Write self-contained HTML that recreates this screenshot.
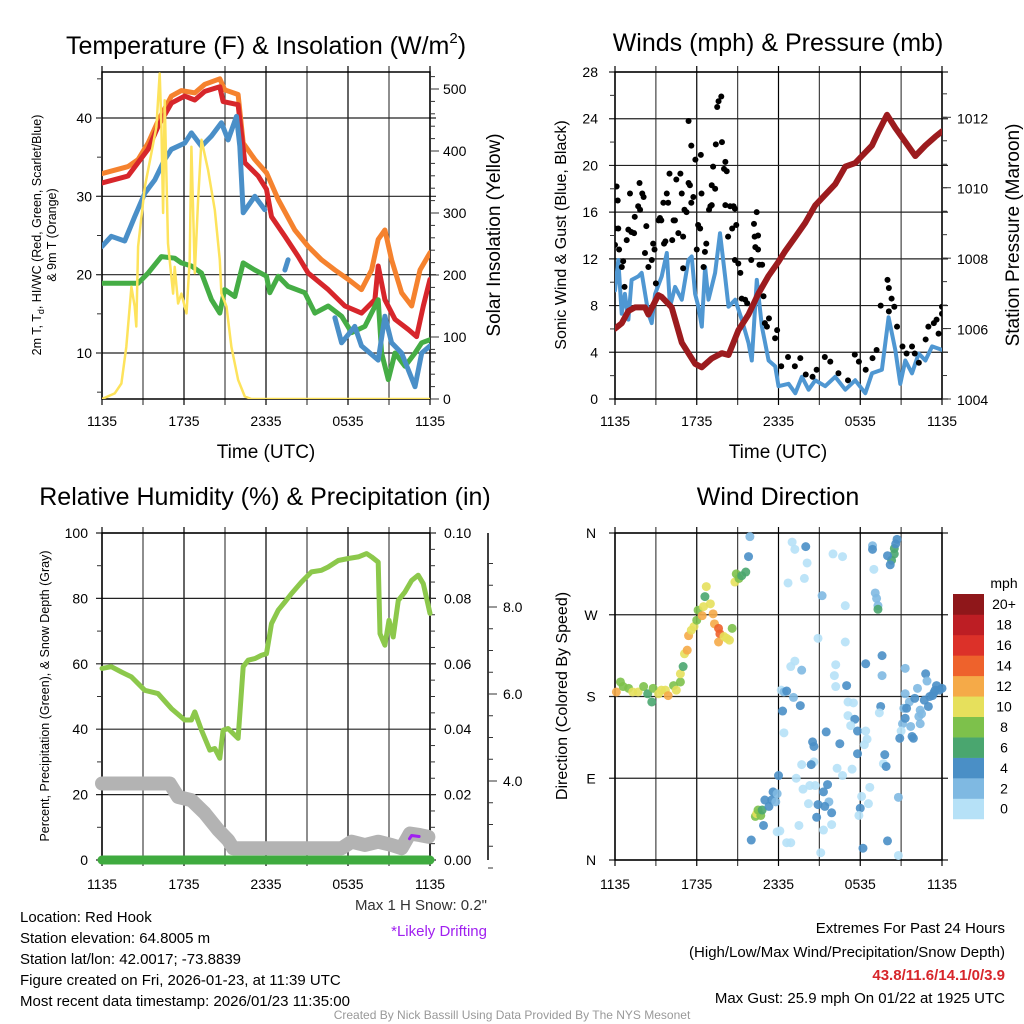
<!DOCTYPE html>
<html><head><meta charset="utf-8"><style>
html,body{margin:0;padding:0;background:#fff;}
svg{display:block;font-family:"Liberation Sans",Arial,sans-serif;}
</style></head><body>
<svg id="chart" width="1024" height="1024" viewBox="0 0 1024 1024" xmlns="http://www.w3.org/2000/svg">
<rect x="0" y="0" width="1024" height="1024" fill="#fff"/>
<defs>
<clipPath id="c1"><rect x="102" y="72" width="328" height="327"/></clipPath>
<clipPath id="c2"><rect x="615" y="72" width="327" height="327"/></clipPath>
<clipPath id="c3"><rect x="95" y="533" width="342" height="335"/></clipPath>
<clipPath id="c4"><rect x="610" y="528" width="337" height="337"/></clipPath>
</defs>
<text x="266" y="54" font-size="25" text-anchor="middle">Temperature (F) &amp; Insolation (W/m<tspan font-size="15" dy="-11">2</tspan><tspan dy="11">)</tspan></text>
<text x="778" y="51" font-size="25" text-anchor="middle">Winds (mph) &amp; Pressure (mb)</text>
<text x="265" y="505" font-size="25" text-anchor="middle">Relative Humidity (%) &amp; Precipitation (in)</text>
<text x="778" y="505" font-size="25" text-anchor="middle">Wind Direction</text>
<text x="266" y="458" font-size="19" text-anchor="middle">Time (UTC)</text>
<text x="778" y="458" font-size="19" text-anchor="middle">Time (UTC)</text>
<g transform="translate(41,235) rotate(-90)" font-size="12.5" text-anchor="middle">
<text x="0" y="0">2m T, T<tspan font-size="9" dy="3">d</tspan><tspan dy="-3">, HI/WC (Red, Green, Scarlet/Blue)</tspan></text>
<text x="0" y="15">&amp; 9m T (Orange)</text>
</g>
<text transform="translate(500,235) rotate(-90)" font-size="19" text-anchor="middle">Solar Insolation (Yellow)</text>
<text transform="translate(566,235) rotate(-90)" font-size="16" text-anchor="middle">Sonic Wind &amp; Gust (Blue, Black)</text>
<text transform="translate(1019,235) rotate(-90)" font-size="19" text-anchor="middle">Station Pressure (Maroon)</text>
<text transform="translate(49,696) rotate(-90)" font-size="12.5" text-anchor="middle">Percent, Precipitation (Green), &amp; Snow Depth (Gray)</text>
<text transform="translate(567,696) rotate(-90)" font-size="16" text-anchor="middle">Direction (Colored By Speed)</text>
<text x="487" y="910" font-size="15" text-anchor="end" fill="#333">Max 1 H Snow: 0.2"</text>
<text x="487" y="936" font-size="15" text-anchor="end" fill="#a020f0">*Likely Drifting</text>
<g font-size="15">
<text x="20" y="922">Location: Red Hook</text>
<text x="20" y="943">Station elevation: 64.8005 m</text>
<text x="20" y="964">Station lat/lon: 42.0017; -73.8839</text>
<text x="20" y="985">Figure created on Fri, 2026-01-23, at 11:39 UTC</text>
<text x="20" y="1006">Most recent data timestamp: 2026/01/23 11:35:00</text>
</g>
<g font-size="15" text-anchor="end">
<text x="1005" y="933">Extremes For Past 24 Hours</text>
<text x="1005" y="957">(High/Low/Max Wind/Precipitation/Snow Depth)</text>
<text x="1005" y="980" fill="#d7262b" font-weight="bold">43.8/11.6/14.1/0/3.9</text>
<text x="1005" y="1003">Max Gust: 25.9 mph On 01/22 at 1925 UTC</text>
</g>
<text x="512" y="1019" font-size="12" text-anchor="middle" fill="#999">Created By Nick Bassill Using Data Provided By The NYS Mesonet</text>
</svg>
<script>
// ---------- DATA ----------
const gridHours=[0,3,6,9,12,15,18,21,24];
const timeTickHours=[0,6,12,18,24];
const timeTickLabels=['1135','1735','2335','0535','1135'];

const t9mHours=[0,1.9,2.64,3.37,4.1,5.08,5.81,6.79,7.52,8.62,8.98,9.96,10.33,11.18,12.04,12.89,14.11,15.09,16.06,17.04,18.02,18.99,19.73,20.21,20.7,21.19,21.92,22.66,23.27,24];
const t9mValues=[32.9,33.8,34.7,36.8,39.6,42.8,43.5,43.2,44.3,45.0,43.6,43.0,36.8,34.7,33.0,29.6,25.7,23.6,21.9,20.6,19.4,18.1,20.6,24.5,25.7,21.9,17.7,16.0,20.6,22.8];
const t2mHours=[0,1.9,3.37,4.1,5.08,6.05,6.79,7.52,8.62,8.86,9.96,10.45,11.43,12.04,12.4,13.38,14.36,15.09,16.55,17.77,18.99,19.97,20.21,20.7,21.44,22.41,23.02,23.51,24];
const t2mValues=[31.7,32.6,36,38.9,41.9,42.8,42.3,43.4,44,42.1,41.7,34.3,32.6,30.9,27.4,24.9,22.3,20.2,18.1,16,15.1,16.8,21.1,16.8,14.3,13,12.1,16,19.4];
const wcHours=[0,0.68,1.66,2.39,3.13,3.86,4.59,5.08,6.05,6.54,7.28,8.01,8.74,9.23,9.84,10.08,10.33,11.18,11.91,12.5,13.38,13.62,15.5,17.04,17.53,18.5,18.99,20.21,20.7,21.19,21.92,22.9,23.39,24];
const wcValues=[23.6,24.9,24.3,27.4,30.4,32.1,34.7,36,36.8,38.1,36.4,37.7,39.4,37.2,40.2,36.4,27.9,30,28.3,null,20.6,21.9,null,14.5,11.3,13.4,10.9,9.1,14.7,11.3,10,5.7,10,10.9];
const tdHours=[0,2.64,3.37,4.35,5.32,5.81,6.54,7.28,8.01,8.62,8.98,9.72,10.33,11.18,12.04,12.28,12.89,13.62,14.84,15.58,16.55,17.53,18.26,19.24,20.21,20.46,20.95,21.44,22.17,22.9,23.39,24];
const tdValues=[18.9,18.9,20.2,22.3,22.1,21.5,21.1,20.2,16.8,15.1,18.1,17.2,21.5,20.6,19.8,17.7,19.8,18.5,17.7,15.1,16,14.7,12.6,13.4,16.8,10,6.6,10,8.3,10,11.3,11.7];
const solarHours=[0,0.93,1.42,1.78,2.15,2.39,2.51,2.64,3.13,3.61,3.98,4.22,4.35,4.47,4.59,4.83,5.2,5.32,5.57,5.81,6.18,6.42,6.54,6.79,7.03,7.28,7.76,8.25,8.62,8.74,9.11,9.47,9.96,10.45,10.94,24];
const solarValues=[0,9,25,84,181,149,117,246,342,396,439,525,439,300,482,251,170,213,154,170,138,224,407,203,321,418,369,305,224,170,149,84,31,4,0,0];

const sonicHours=[0,0.24,0.49,0.73,0.98,1.22,1.71,1.96,2.45,2.69,2.94,3.43,3.8,4.04,4.41,4.9,5.39,5.63,5.88,6.12,6.37,6.61,6.86,7.35,7.71,8.08,8.33,8.82,9.31,9.8,10.04,10.41,10.78,11.27,11.76,12.0,12.74,13.23,13.72,14.21,14.7,15.43,16.16,16.9,17.63,18.37,18.86,19.59,20.08,20.57,20.94,21.31,21.8,22.29,22.78,23.27,24];
const sonicValues=[9.3,11.9,7.3,9.0,6.8,10.2,10.5,10.8,7.3,6.5,9.0,10.5,12.5,7.9,9.6,8.5,11.9,12.2,9.0,7.9,6.2,11.3,8.5,10.8,14.2,10.5,7.9,8.5,6.8,4.8,3.3,10.2,6.2,3.3,2.8,1.1,1.3,0.5,1.9,0.8,1.6,1.1,1.9,0.8,1.6,0.5,2.2,2.5,7.0,4.2,1.3,3.3,2.2,3.9,3.3,4.5,4.2];
const gustHours=[0.12,0.2,0,0.24,0,0.3,0.6,0.5,0.7,0.86,0.98,1.2,1.4,1.1,1.45,1.7,1.84,1.8,2.0,2.1,2.3,2.2,2.45,2.7,2.8,2.9,3.0,3.2,3.3,3.4,3.6,3.7,3.55,3.8,3.9,4.0,4.3,4.4,4.2,4.5,4.65,4.8,4.9,5.0,5.0,5.1,5.25,5.4,5.5,5.6,5.75,5.4,5.6,5.9,6.0,6.1,6.25,6.3,6.35,6.5,6.6,6.7,6.9,7.0,7.1,7.1,7.2,7.35,7.4,7.5,7.6,7.8,7.85,8.0,8.1,8.1,8.2,8.3,8.45,8.6,8.7,8.8,8.8,8.9,9.05,9.2,9.3,9.55,9.7,10.0,10.2,10.25,10.4,10.5,10.5,10.6,10.3,10.8,10.9,11.0,11.15,11.3,11.75,11.9,12.2,12.7,13.2,13.6,14.0,14.5,14.8,15.4,15.8,16.4,17.1,17.6,17.9,18.4,18.9,19.2,19.5,20.0,20.1,20.3,20.5,20.1,20.7,21.1,21.4,21.8,22.0,22.3,22.8,23.0,23.4,23.6,23.75,24.0,24.0];
const gustValues=[18.2,17.0,14.6,14.6,13.2,12.8,11.8,11.3,9.6,13.6,14.5,14.3,14.2,17.6,15.6,16.5,16.2,18.5,17.6,17.3,14.8,12.5,11.3,11.9,13.3,12.8,9.9,15.3,15.5,15.3,13.3,13.5,16.8,17.6,16.8,19.3,15.3,15.3,13.6,18.8,14.2,19.3,17.6,11.2,13.9,16.2,16.0,18.5,18.3,16.8,17.3,23.8,21.7,20.5,12.8,14.9,14.6,20.9,17.6,11.3,12.6,13.3,16.2,16.5,16.6,18.3,19.9,18.0,21.8,25.0,25.5,25.9,22.0,19.7,16.6,20.3,19.5,13.9,16.5,14.6,16.5,16.3,11.9,14.9,11.6,10.8,8.6,8.5,8.2,11.9,15.0,13.9,16.0,14.0,12.8,11.5,13.0,11.5,8.8,6.5,6.2,6.9,5.2,5.9,2.8,3.6,2.8,3.5,2.1,1.9,2.5,3.6,3.2,2.2,1.6,3.8,3.2,2.5,3.5,4.2,8.0,10.2,9.5,8.6,7.9,7.5,6.2,4.5,3.9,4.5,3.9,3.1,5.1,6.2,6.5,6.8,5.6,7.3,7.9];
const pressureHours=[0,0.49,0.98,1.47,2.2,2.45,3.18,3.43,4.16,4.9,5.88,6.37,7.1,7.84,8.33,9.06,9.8,10.53,11.27,12.0,12.49,13.23,13.96,14.7,15.43,16.16,16.9,17.63,18.12,18.86,19.35,19.96,20.57,21.31,22.04,22.78,23.51,24];
const pressureValues=[1006.0,1006.15,1006.5,1006.6,1006.6,1006.4,1006.95,1006.9,1006.6,1005.6,1005.0,1004.9,1005.15,1005.3,1005.25,1005.95,1006.4,1007.0,1007.5,1007.9,1008.2,1008.6,1009.0,1009.5,1009.8,1010.1,1010.6,1010.7,1010.9,1011.2,1011.6,1012.07,1011.7,1011.3,1010.9,1011.2,1011.45,1011.6];

const rhHours=[0,0.68,1.42,2.15,3.13,4.1,5.08,6.05,6.54,6.79,7.28,7.89,8.25,8.62,8.86,9.23,9.59,9.96,10.33,10.69,11.18,11.67,12.04,12.4,12.89,13.38,13.87,14.6,15.33,16.06,16.55,17.29,18.02,18.75,19.36,19.73,20.21,20.34,20.7,21.0,21.31,21.68,22.17,22.66,23.14,23.51,24];
const rhValues=[58.6,59.1,57.5,56,51.9,50.9,46.3,42.8,42.8,45.3,39.7,33.6,34.1,31.1,39.7,40.2,38.7,37.2,59.1,61.1,61.6,62.6,63.1,72.3,76.4,78.9,81.5,85,88.1,88.6,89.6,91.6,92.2,92.7,93.7,92.7,91.1,69.2,65.7,73.3,68.2,79.4,82,85.5,87.1,84.5,75.4];
const snowHours=[0,4.96,5.57,6.54,7.52,8.5,9.23,9.59,17.53,18.26,19.24,20.21,21.19,21.92,22.53,23.27,23.88];
const snowValues=[0.0234,0.0234,0.0193,0.0183,0.0143,0.0092,0.0061,0.0036,0.0036,0.0056,0.0046,0.0056,0.0046,0.0036,0.0081,0.0076,0.0071];
const driftHours=[22.5,22.65,23.2];
const driftValues=[0.0065,0.0075,0.0072];
const precipHours=[0,24];
const precipValues=[0,0];

const dirHours=[0.1,0.4,0.6,1.0,1.3,1.7,2.1,2.4,2.7,2.8,3.2,3.4,3.7,3.9,4.3,4.5,4.8,4.8,5.0,5.1,5.3,5.4,5.6,5.8,6.0,6.1,6.4,6.5,6.6,6.7,7.0,7.2,7.3,7.6,7.7,7.6,8.0,8.2,8.4,8.6,8.8,8.9,9.1,9.3,9.6,9.8,9.9,10.0,10.3,10.4,10.5,10.7,10.8,10.9,11.0,11.3,11.5,11.6,11.8,11.9,12.0,11.9,12.2,12.4,12.6,13.0,13.2,14.0,14.1,12.7,13.9,15.2,16.9,16.0,16.7,14.9,16.9,13.2,12.9,13.7,16.2,16.1,16.2,17.0,18.4,19.6,19.6,21.3,13.1,13.6,12.3,12.4,14.5,14.6,15.5,16.5,17.1,17.5,17.1,17.6,17.3,17.8,18.4,18.5,18.3,17.8,19.5,19.4,19.8,19.7,19.9,13.7,14.6,14.4,16.3,17.4,16.7,13.3,13.8,14.3,14.7,15.6,15.3,15.7,15.4,14.9,15.9,14.8,13.5,14.2,15.9,15.3,12.1,12.6,12.9,15.1,18.2,20.0,20.8,18.1,18.7,18.6,18.0,17.9,20.8,18.9,18.9,19.0,19.1,19.2,19.3,19.3,20.5,20.5,20.3,20.2,20.0,20.6,20.7,21.3,21.6,21.2,21.4,21.1,21.3,21.0,20.9,21.8,21.9,21.7,22.0,22.2,22.4,22.3,22.5,22.4,22.7,22.8,22.9,23.0,23.1,23.3,23.4,23.5,23.6,23.8,24.0,23.9];
const dirDegrees=[185,196,191,189,185,185,191,183,174,189,183,187,187,181,192,187,196,205,213,227,231,247,253,257,264,275,269,279,290,301,282,271,260,255,249,240,246,244,242,255,306,315,310,313,317,334,356,22,48,51,55,49,55,38,66,59,66,75,64,73,93,31,187,185,186,350,342,345,327,305,310,291,280,337,334,244,240,219,213,209,215,203,191,192,216,225,203,211,179,170,164,140,130,125,141,128,174,173,159,155,148,142,142,133,127,117,169,162,116,106,103,105,108,105,101,100,93,90,78,82,82,83,75,64,59,61,52,47,38,62,39,33,32,19,19,8,13,21,5,70,80,62,57,49,69,346,342,320,294,288,280,276,343,337,330,325,335,348,353,183,174,167,167,150,156,142,134,136,134,147,178,189,165,158,161,150,176,205,197,169,180,181,184,187,192,187,189,185];
const dirSpeeds=[13,9,8,9,10,11,9,6,7,8,11,10,10,13,9,11,9,11,7,10,12,13,11,10,9,8,12,11,7,11,10,13,13,15,14,12,10,11,11,9,10,9,8,7,7,5,3,5,9,11,8,9,7,5,5,5,5,4,3,3,5,1,1,2,4,1,1,5,1,1,1,2,1,1,1,1,1,1,1,3,1,1,1,4,4,4,3,3,3,4,4,1,4,4,4,4,1,1,1,4,1,4,1,1,1,4,4,1,4,1,4,1,1,4,1,1,1,1,1,1,1,4,4,3,4,4,4,4,1,1,1,1,1,1,1,1,4,4,1,1,1,1,4,1,3,3,4,1,3,3,3,6,6,6,6,4,4,4,4,3,3,3,4,3,4,1,4,4,5,3,4,3,3,3,3,3,4,5,3,4,4,4,4,5,4,5,4];
const speedBinLabels=['0','2','4','6','8','10','12','14','16','18','20+'];
const speedBinColors=['#b6e1f7','#7fb9e2','#4a8fc6','#4aa66f','#7dc14b','#e6e05c','#f5aa48','#ee622c','#dc3129','#bd1e24','#8f171a'];

// ---------- HELPERS ----------
const NS='http://www.w3.org/2000/svg';
const svg=document.getElementById('chart');
function mk(tag,attrs,parent){const e=document.createElementNS(NS,tag);for(const k in attrs)e.setAttribute(k,attrs[k]);(parent||svg).appendChild(e);return e;}
function lin(d0,d1,r0,r1){return v=>r0+(v-d0)*(r1-r0)/(d1-d0);}
function pathD(xs,ys,fx,fy){let d='',pen=false;const n=Math.min(xs.length,ys.length);
 for(let i=0;i<n;i++){if(ys[i]===null||ys[i]===undefined){pen=false;continue;}
  d+=(pen?'L':'M')+fx(xs[i]).toFixed(1)+','+fy(ys[i]).toFixed(1);pen=true;}return d;}

const P1={x0:102,x1:430,y0:72,y1:399},P2={x0:615,x1:942,y0:72,y1:399},P3={x0:102,x1:430,y0:533,y1:860},P4={x0:615,x1:942,y0:533,y1:860};
const x1s=lin(0,24,P1.x0,P1.x1),x2s=lin(0,24,P2.x0,P2.x1),x3s=lin(0,24,P3.x0,P3.x1),x4s=lin(0,24,P4.x0,P4.x1);
const yTemp=lin(10,40,353,118),ySolar=lin(0,500,399,89);
const yWind=lin(0,28,399,72),yPres=lin(1004,1012,399,117.3);
const yRH=lin(0,100,860,533),yPrecip=lin(0,0.1,860,533),ySnow=lin(4,8,781,607);
const yDir=lin(0,360,860,533);

function grid(P,fx,hLines,name){
 const g=mk('g',{});
 
 
 gridHours.forEach(h=>{const x=fx(h);mk('line',{x1:x,x2:x,y1:P.y0-6,y2:P.y1+6,stroke:(h%6===0)?'#000':'#444','stroke-width':1.2},g);});
 hLines.forEach(y=>{mk('line',{x1:P.x0-6,x2:P.x1+6,y1:y,y2:y,stroke:'#222','stroke-width':1.2},g);});
 mk('rect',{x:P.x0,y:P.y0,width:P.x1-P.x0,height:P.y1-P.y0,fill:'none',stroke:'#000','stroke-width':1.5},g);
}
function timeLabels(P,fx,y,name){
 timeTickHours.forEach((h,i)=>{const t=mk('text',{x:fx(h),y:y,'font-size':14,'text-anchor':'middle'});t.textContent=timeTickLabels[i];
 
 });
}
function minorTicks(x,vals,fy,dir,len){vals.forEach(v=>{const y=fy(v);mk('line',{x1:x,x2:x+dir*len,y1:y,y2:y,stroke:'#333','stroke-width':1});});}
function label(x,y,txt,anchor,name){const t=mk('text',{x:x,y:y,'font-size':14,'text-anchor':anchor});t.textContent=txt;
 
 return t;}
function line(xs,ys,fx,fy,color,w,clip,name){const p=mk('path',{d:pathD(xs,ys,fx,fy),fill:'none',stroke:color,'stroke-width':w,'stroke-linejoin':'round','stroke-linecap':'round','clip-path':'url(#'+clip+')'});
 
 return p;}
function range(a,b,s){const r=[];for(let v=a;v<=b+1e-9;v+=s)r.push(+v.toFixed(4));return r;}

// ---------- PANEL 1 ----------
grid(P1,x1s,[10,20,30,40].map(yTemp),'temperature');
minorTicks(P1.x0,range(5,45,5),yTemp,-1,5);
minorTicks(P1.x1,range(0,520,20),ySolar,1,5);
minorTicks(P1.x1,range(0,500,100),ySolar,1,9);
[10,20,30,40].forEach(v=>label(92,yTemp(v)+5,String(v),'end','temp-tick-label'));
[0,100,200,300,400,500].forEach(v=>label(443,ySolar(v)+5,String(v),'start','solar-tick-label'));
timeLabels(P1,x1s,426,'p1');
line(t9mHours,t9mValues,x1s,yTemp,'#f5822e',5,'c1','temp-9m-line');
line(t2mHours,t2mValues,x1s,yTemp,'#d7262b',5,'c1','temp-2m-line');
line(tdHours,tdValues,x1s,yTemp,'#45ad45',5,'c1','dewpoint-line');
line(wcHours,wcValues,x1s,yTemp,'#4a8fc8',5,'c1','windchill-line');
line(solarHours,solarValues,x1s,ySolar,'#fde35c',2.5,'c1','solar-insolation-line');

// ---------- PANEL 2 ----------
grid(P2,x2s,range(0,28,4).map(yWind),'winds');
minorTicks(P2.x0,range(2,26,4),yWind,-1,5);
minorTicks(P2.x1,range(1004,1013,2/3),yPres,1,5);
minorTicks(P2.x1,[1004,1006,1008,1010,1012],yPres,1,9);
range(0,28,4).forEach(v=>label(598,yWind(v)+5,String(v),'end','wind-tick-label'));
[1004,1006,1008,1010,1012].forEach(v=>label(957,yPres(v)+6,String(v),'start','pressure-tick-label'));
timeLabels(P2,x2s,426,'p2');
line(sonicHours,sonicValues,x2s,yWind,'#4f97d2',4,'c2','sonic-wind-line');
line(pressureHours,pressureValues,x2s,yPres,'#9c1b1e',6,'c2','pressure-line');
const gg=mk('g',{'clip-path':'url(#c2)'});


for(let i=0;i<Math.min(gustHours.length,gustValues.length);i++){
 const c=mk('circle',{cx:x2s(gustHours[i]),cy:yWind(gustValues[i]),r:3,fill:'#000'},gg);
 
 
}

// ---------- PANEL 3 ----------
grid(P3,x3s,range(0,100,20).map(yRH),'humidity');
minorTicks(P3.x0,range(10,90,20),yRH,-1,5);
minorTicks(P3.x1,range(0,0.1,0.005),yPrecip,1,5);
range(0,100,20).forEach(v=>label(88,yRH(v)+5,String(v),'end','rh-tick-label'));
range(0,0.1,0.02).forEach(v=>label(444,yPrecip(v)+5,v.toFixed(2),'start','precip-tick-label'));
timeLabels(P3,x3s,889,'p3');
const sa=mk('line',{x1:488,x2:488,y1:533,y2:860,stroke:'#000','stroke-width':1.5});


minorTicks(488,range(2,9,0.5),ySnow,1,5);
minorTicks(488,[4,6,8],ySnow,1,9);
[4,6,8].forEach(v=>label(503,ySnow(v)+5,v.toFixed(1),'start','snow-tick-label'));
line(snowHours,snowValues,x3s,yPrecip,'#b3b3b3',14,'c3','snow-depth-line');
line(driftHours,driftValues,x3s,yPrecip,'#a020f0',3,'c3','drifting-snow-line');
line(rhHours,rhValues,x3s,yRH,'#8cc84b',5,'c3','relative-humidity-line');
line(precipHours,precipValues,x3s,yPrecip,'#3fab3f',9,'c3','precipitation-line');

// ---------- PANEL 4 ----------
grid(P4,x4s,[0,90,180,270,360].map(yDir),'direction');
['N','E','S','W','N'].forEach((t,i)=>label(591,yDir(i*90)+5,t,'middle','direction-tick-label'));
timeLabels(P4,x4s,889,'p4');
const dg=mk('g',{'clip-path':'url(#c4)'});


for(let i=0;i<Math.min(dirHours.length,dirDegrees.length,dirSpeeds.length);i++){
 const bin=Math.min(10,Math.floor(dirSpeeds[i]/2));
 const c=mk('circle',{cx:x4s(dirHours[i]),cy:yDir(dirDegrees[i]),r:4.5,fill:speedBinColors[bin],'fill-opacity':0.9},dg);
 
 
}
const cb=mk('g',{});


const cbTop=594,cbH=20.45;
speedBinColors.forEach((col,i)=>{const y=cbTop+(10-i)*cbH;mk('rect',{x:953,y:y,width:31,height:cbH+0.3,fill:col},cb);
 const t=mk('text',{x:1004,y:y+cbH/2+5,'font-size':14,'text-anchor':'middle'},cb);t.textContent=speedBinLabels[i];});
const mu=mk('text',{x:1004,y:588,'font-size':14,'text-anchor':'middle'},cb);mu.textContent='mph';
</script>
</body></html>
